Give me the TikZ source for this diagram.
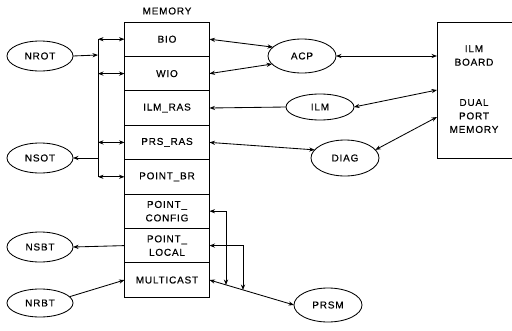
\documentclass[tikz,border=0pt]{standalone}
\usepackage{fontspec}
\setmainfont{Liberation Sans}[LetterSpace=8, FakeBold=0.4]
\usetikzlibrary{arrows.meta,shapes.geometric}
\begin{document}
\begin{tikzpicture}[x=1pt,y=-1pt,
  every node/.style={font=\fontsize{10}{13.5}\selectfont},
  cell/.style={draw, rectangle, minimum width=85pt, minimum height=34.4pt, inner sep=0pt, outer sep=0pt, align=center},
  oval/.style={draw, ellipse, inner sep=0pt, outer sep=0pt, minimum width=66pt, minimum height=30pt},
  >={Stealth[length=5.5pt,width=4.2pt]}, line width=0.85pt]
\useasboundingbox (0,0) rectangle (512,330);

% memory
\node (memlabel) at (167,11) {MEMORY};
\node[cell] (bio)    at (167,39.2)  {BIO};
\node[cell] (wio)    at (167,73.6)  {WIO};
\node[cell] (ilmras) at (167,108)   {ILM\_RAS};
\node[cell] (prsras) at (167,142.4) {PRS\_RAS};
\node[cell] (ptbr)   at (167,176.8) {POINT\_BR};
\node[cell] (ptcfg)  at (167,211.2) {POINT\_\\CONFIG};
\node[cell] (ptloc)  at (167,245.6) {POINT\_\\LOCAL};
\node[cell] (multi)  at (167,280)   {MULTICAST};

% left ovals
\node[oval] (nrot) at (40,56)  {NROT};
\node[oval] (nsot) at (40,158) {NSOT};
\node[oval] (nsbt) at (40,247) {NSBT};
\node[oval, minimum height=28pt] (nrbt) at (40,303) {NRBT};

% right ovals
\node[oval, minimum width=68pt, minimum height=34pt] (acp)  at (302,56)  {ACP};
\node[oval, minimum width=68pt, minimum height=26pt] (ilm)  at (320,107) {ILM};
\node[oval, minimum width=68pt, minimum height=36pt] (diag) at (345,158) {DIAG};
\node[oval, minimum width=68pt, minimum height=34pt] (prsm) at (328,305) {PRSM};

% ILM board (open at the right, cut by the page edge)
\node[rectangle, draw=none, minimum width=95pt, minimum height=136pt, inner sep=0pt, outer sep=0pt] (board) at (484.5,90) {};
\draw (board.north east) -- (board.north west) -- (board.south west) -- (board.south east);
\node[align=center] (boardtxt) at (474,55.5) {ILM\\BOARD};
\node[align=center] (dualtxt) at (474,116) {DUAL\\PORT\\MEMORY};

% bus
\coordinate (b1) at (98,39.2);
\coordinate (b2) at (98,73.6);
\coordinate (b3) at (98,142.4);
\coordinate (b4) at (98,176.8);
\coordinate (bn) at (98,55);
\coordinate (bs) at (98,158);
\draw (b1) -- (b4);
\draw[<->] (b1) -- (bio.west);
\draw[<->] (b2) -- (wio.west);
\draw[<->] (b3) -- (prsras.west);
\draw[<->] (b4) -- (ptbr.west);
\draw[->] (nrot.east) -- (bn);
\draw[->] (bs) -- (nsot.east);

% left lower
\draw[->] (ptloc.west) -- (nsbt.east);
\draw[->] (nrbt.12) -- (multi.west);

% right side
\draw[<->] (bio.east) -- (acp.163);
\draw[<->] (wio.east) -- (acp.195);
\draw[<->] (acp.east) -- (board.west |- acp.east);
\draw[->] (ilm.west) -- (ilmras.east);
\coordinate (bi) at (437,90);
\coordinate (bd) at (437,117);
\draw[<->] (ilm.east) -- (bi);
\draw[<->] (prsras.east) -- (diag.165);
\draw[<->] (diag.15) -- (bd);

% multicast / point links
\draw[<->] (multi.east) -- (prsm.west);
\coordinate (c1) at (226,285);
\coordinate (c2) at (243,290);
\draw[<->] (ptcfg.east) -| (c1);
\draw[<->] (ptloc.east) -| (c2);
\end{tikzpicture}
\end{document}
